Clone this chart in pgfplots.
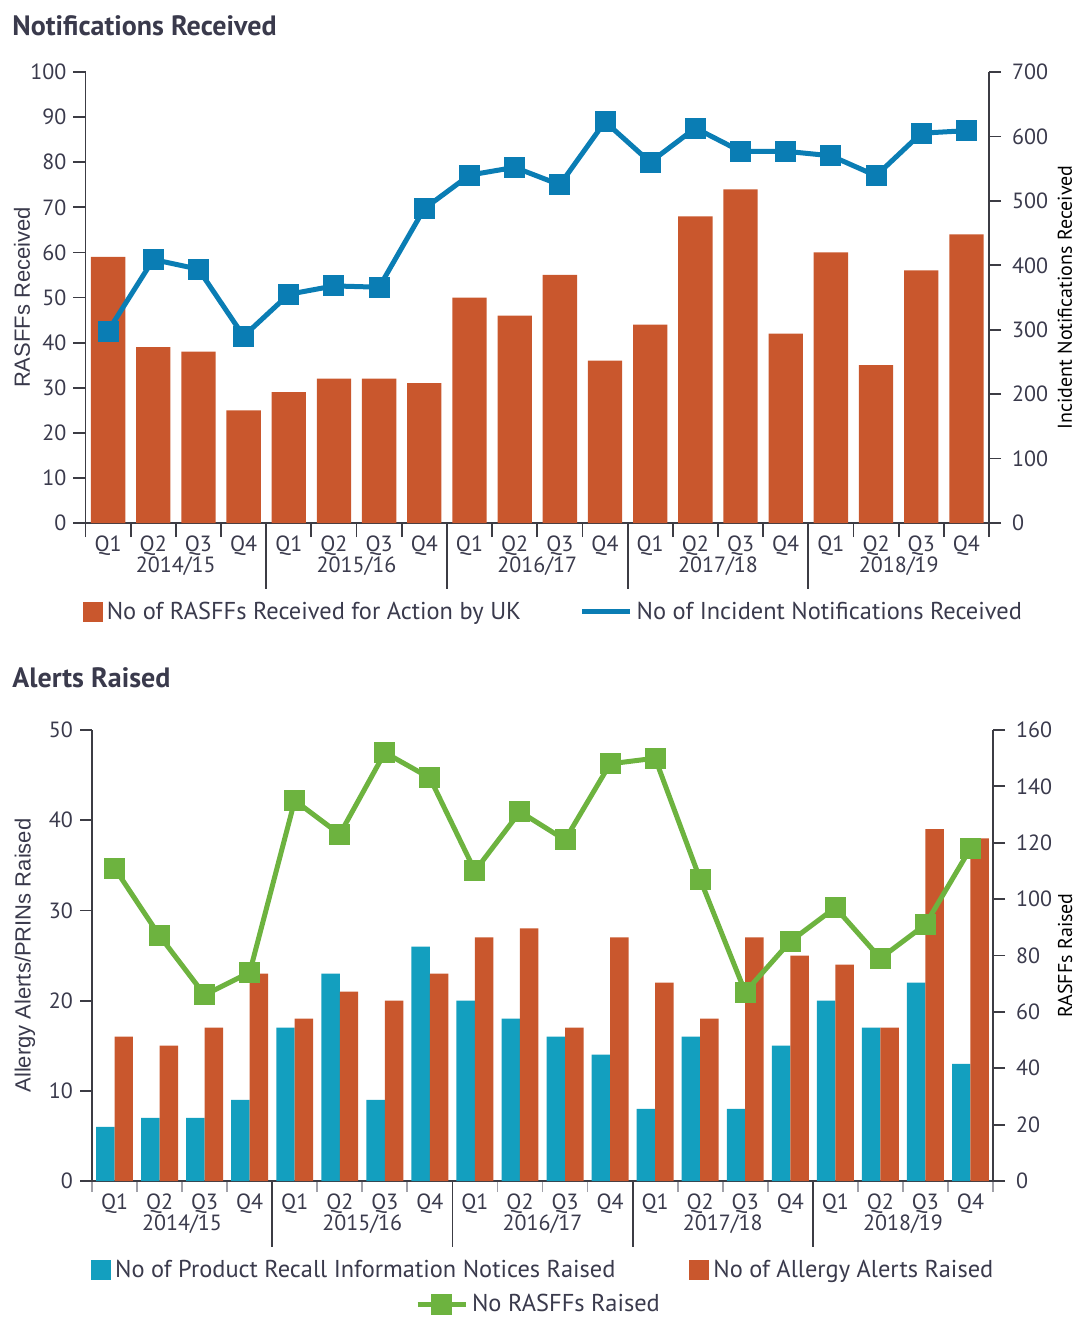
\documentclass[border=0pt]{standalone}
\usepackage{pgfplots}
\pgfplotsset{compat=1.18}
\usepackage{fontspec}
\setmainfont{PT Sans}
\newfontfamily\arialfont{Liberation Sans}
\definecolor{txt}{HTML}{3A3A4C}
\definecolor{axc}{HTML}{3C3C44}
\definecolor{lgr}{HTML}{A0A0A8}
\definecolor{orng}{HTML}{C9572D}
\definecolor{blu}{HTML}{0A7DB4}
\definecolor{tealb}{HTML}{139FBF}
\definecolor{grn}{HTML}{6DB33F}
\pgfplotsset{
  every non boxed x axis/.append style={x axis line style={-}, xtick align=outside},
  every non boxed y axis/.append style={y axis line style={-}, ytick align=outside},
  base/.style={
    scale only axis,
    xmin=-0.5, xmax=19.5,
    ymin=0,
    tick label style={font=\fontsize{11}{13}\selectfont, text=txt},
    label style={font=\arialfont\fontsize{11}{13}\selectfont, text=txt},
    axis line style={-, draw=axc, line width=0.9pt},
    tick style={draw=axc, line width=0.9pt},
    tick align=outside,
    major tick length=6pt,
    /pgf/number format/assume math mode=true,
    legend style={draw=none, fill=none, inner sep=0pt, outer sep=0pt,
      font=\fontsize{12.2}{14}\selectfont, text=txt, legend cell align=left},
  },
  qaxis/.style={
    xtick={0,...,19},
    xticklabels={Q1,Q2,Q3,Q4,Q1,Q2,Q3,Q4,Q1,Q2,Q3,Q4,Q1,Q2,Q3,Q4,Q1,Q2,Q3,Q4},
    major x tick style={draw=none},
    minor xtick={-0.5,0.5,...,19.5},
    extra x ticks={1.5,5.5,9.5,13.5,17.5},
    extra x tick labels={2014/15,2015/16,2016/17,2017/18,2018/19},
    extra x tick style={major tick length=0pt, xticklabel style={yshift=-16.5pt}},
    xticklabel style={yshift=3pt},
  },
  sqleg/.style={legend image code/.code={\fill[##1] (0pt,-5pt) rectangle (10pt,5pt);}},
  lnleg/.style={legend image code/.code={\draw[##1] (0pt,0pt) -- (24pt,0pt);}},
  lnmleg/.style={legend image code/.code={\draw[mark repeat=2,mark phase=2,##1] plot coordinates {(0pt,0pt) (12pt,0pt) (24pt,0pt)};}},
}
\begin{document}
\begin{tikzpicture}
\useasboundingbox (0,0) rectangle (538.5pt,-658.5pt);
\node[anchor=west, inner sep=0pt, font=\bfseries\fontsize{14}{16}\selectfont, text=txt] at (6pt,-13pt) {Notifications Received};
\node[anchor=west, inner sep=0pt, font=\bfseries\fontsize{14}{16}\selectfont, text=txt] at (6pt,-339pt) {Alerts Raised};

% ---------- top: bars ----------
\begin{axis}[base, qaxis,
  at={(42.75pt,-261.5pt)}, anchor=south west, width=451.75pt, height=225.5pt,
  ymax=100, ytick={0,10,...,100},
  axis x line=bottom, axis y line=left,
  minor tick length=7pt,
  ylabel={RASFFs Received},
  ylabel style={at={(axis description cs:-0.0703,0.5)}, anchor=center},
  clip=false,
  ybar, bar width=0.76,
  sqleg,
  legend style={at={(-0.003,-0.197)}, anchor=west},
]
\addplot[fill=orng, draw=none] coordinates {
(0,59) (1,39) (2,38) (3,25) (4,29) (5,32) (6,32) (7,31) (8,50) (9,46)
(10,55) (11,36) (12,44) (13,68) (14,74) (15,42) (16,60) (17,35) (18,56) (19,64)};
\addlegendentry{No of RASFFs Received for Action by UK}
\draw[axc, line width=0.9pt] (axis cs:3.5,0) -- ++(0pt,-33pt);
\draw[axc, line width=0.9pt] (axis cs:7.5,0) -- ++(0pt,-33pt);
\draw[axc, line width=0.9pt] (axis cs:11.5,0) -- ++(0pt,-33pt);
\draw[axc, line width=0.9pt] (axis cs:15.5,0) -- ++(0pt,-33pt);
\end{axis}

% ---------- top: line ----------
\begin{axis}[base,
  at={(42.75pt,-261.5pt)}, anchor=south west, width=451.75pt, height=225.5pt,
  ymax=700, ytick={0,100,...,700},
  axis x line=none, axis y line=right,
  yticklabel style={xshift=2pt},
  ylabel={Incident Notifications Received},
  ylabel style={at={(axis description cs:1.084,0.5)}, anchor=center},
  lnleg,
  legend style={at={(0.547,-0.197)}, anchor=west},
]
\addplot[blu, line width=2.5pt, mark=square*, mark size=4pt, mark options={solid}] coordinates {
(0,298) (1,409) (2,394) (3,290) (4,355) (5,368) (6,366) (7,488) (8,540) (9,552)
(10,525) (11,623) (12,560) (13,613) (14,577) (15,577) (16,570) (17,539) (18,605) (19,609)};
\addlegendentry{No of Incident Notifications Received}
\end{axis}

% ---------- bottom: bars ----------
\begin{axis}[base, qaxis,
  at={(46pt,-590.5pt)}, anchor=south west, width=450.5pt, height=225.5pt,
  ymax=50, ytick={0,10,...,50},
  axis x line=bottom, axis y line=left,
  minor tick length=5.5pt,
  minor x tick style={draw=lgr, line width=0.9pt},
  ylabel={Allergy Alerts/PRINs Raised},
  ylabel style={at={(axis description cs:-0.0744,0.5)}, anchor=center},
  clip=false,
  ybar=0pt, bar width=0.41,
  sqleg,
  legend columns=2,
  legend style={at={(-0.001,-0.197)}, anchor=west,
    /tikz/every even column/.append style={column sep=35pt}},
]
\addplot[fill=tealb, draw=none] coordinates {
(0,6) (1,7) (2,7) (3,9) (4,17) (5,23) (6,9) (7,26) (8,20) (9,18)
(10,16) (11,14) (12,8) (13,16) (14,8) (15,15) (16,20) (17,17) (18,22) (19,13)};
\addlegendentry{No of Product Recall Information Notices Raised}
\addplot[fill=orng, draw=none] coordinates {
(0,16) (1,15) (2,17) (3,23) (4,18) (5,21) (6,20) (7,23) (8,27) (9,28)
(10,17) (11,27) (12,22) (13,18) (14,27) (15,25) (16,24) (17,17) (18,39) (19,38)};
\addlegendentry{No of Allergy Alerts Raised}
\draw[axc, line width=0.9pt] (axis cs:3.5,0) -- ++(0pt,-33pt);
\draw[axc, line width=0.9pt] (axis cs:7.5,0) -- ++(0pt,-33pt);
\draw[axc, line width=0.9pt] (axis cs:11.5,0) -- ++(0pt,-33pt);
\draw[axc, line width=0.9pt] (axis cs:15.5,0) -- ++(0pt,-33pt);
\end{axis}

% ---------- bottom: line ----------
\begin{axis}[base,
  at={(46pt,-590.5pt)}, anchor=south west, width=450.5pt, height=225.5pt,
  ymax=160, ytick={0,20,...,160},
  axis x line=none, axis y line=right,
  yticklabel style={xshift=2pt},
  ylabel={RASFFs Raised},
  ylabel style={at={(axis description cs:1.080,0.5)}, anchor=center},
  lnmleg,
  legend style={at={(0.3585,-0.2727)}, anchor=west},
]
\addplot[grn, line width=2.5pt, mark=square*, mark size=4pt, mark options={solid}] coordinates {
(0,111) (1,87) (2,66) (3,74) (4,135) (5,123) (6,152) (7,143) (8,110) (9,131)
(10,121) (11,148) (12,150) (13,107) (14,67) (15,85) (16,97) (17,79) (18,91) (19,118)};
\addlegendentry{No RASFFs Raised}
\end{axis}
\end{tikzpicture}
\end{document}
